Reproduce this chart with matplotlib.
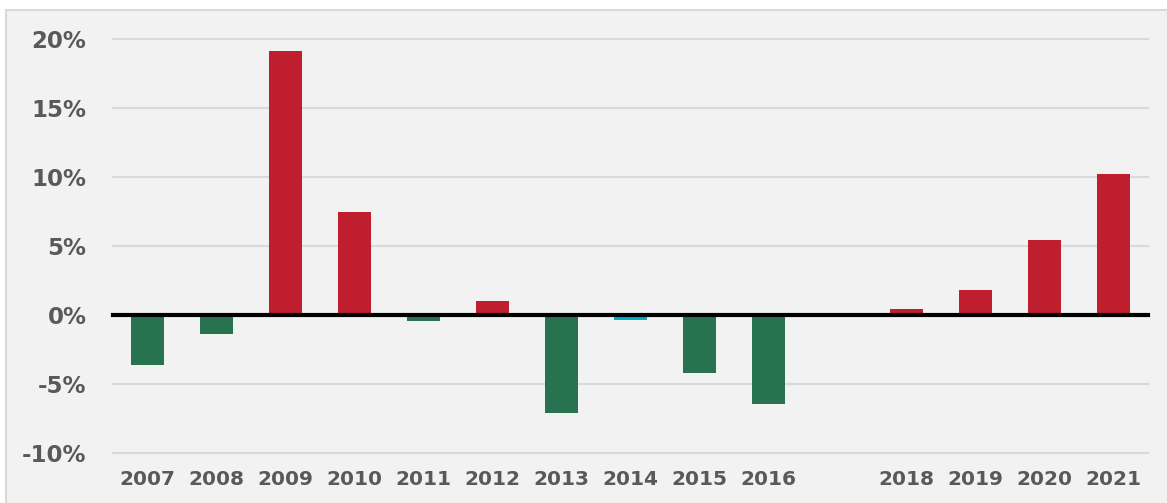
import matplotlib
matplotlib.use("Agg")
import matplotlib.pyplot as plt
from matplotlib.patches import Rectangle

years = ["2007", "2008", "2009", "2010", "2011", "2012", "2013", "2014",
         "2015", "2016", "2017", "2018", "2019", "2020", "2021"]
values = [-3.6, -1.35, 19.1, 7.5, -0.45, 1.0, -7.1, -0.35,
          -4.18, -6.43, None, 0.4, 1.8, 5.4, 10.2]
colors = ["#277350", "#277350", "#BE1E2D", "#BE1E2D", "#277350", "#BE1E2D",
          "#277350", "#00AEC7", "#277350", "#277350", "#BE1E2D", "#BE1E2D",
          "#BE1E2D", "#BE1E2D", "#BE1E2D"]
xlabels = ["2007", "2008", "2009", "2010", "2011", "2012", "2013", "2014",
           "2015", "2016", "", "2018", "2019", "2020", "2021"]
yticks = [-10, -5, 0, 5, 10, 15, 20]
ylabels = ["-10%", "-5%", "0%", "5%", "10%", "15%", "20%"]

W, H = 1167, 503
fig = plt.figure(figsize=(W / 100, H / 100), dpi=100)
fig.patch.set_facecolor("white")
fig.patches.append(Rectangle((6 / W, -0.2), 1.2, 1.2 - 10 / H, transform=fig.transFigure,
                             facecolor="#f2f2f2", edgecolor="#d9d9d9", linewidth=1.5,
                             zorder=-10))

ax = fig.add_axes([113 / W, 50 / H, (1148 - 113) / W, (464 - 50) / H])
ax.set_zorder(5)
ax.set_facecolor("none")

xs = list(range(len(years)))
for x, v, c in zip(xs, values, colors):
    if v is None:
        continue
    ax.bar(x, v, width=0.48, color=c, zorder=2)

ax.set_xlim(-0.5, len(years) - 0.5)
ax.set_ylim(-10, 20)
ax.set_yticks(yticks)
ax.set_yticklabels(ylabels)
ax.set_xticks(xs)
ax.set_xticklabels(xlabels)

for y in yticks:
    ax.axhline(y, color="#d9d9d9", linewidth=1.5, zorder=1, clip_on=False)
ax.axhline(0, color="black", linewidth=3, zorder=3, clip_on=False)

for s in ax.spines.values():
    s.set_visible(False)
ax.tick_params(axis="both", length=0)
ax.tick_params(axis="y", pad=19)
ax.tick_params(axis="x", pad=12)
for lab in ax.get_yticklabels():
    lab.set_fontfamily("DejaVu Sans")
    lab.set_fontweight("bold")
    lab.set_fontsize(16.5)
    lab.set_color("#595959")
for lab in ax.get_xticklabels():
    lab.set_fontfamily("DejaVu Sans")
    lab.set_fontweight("bold")
    lab.set_fontsize(14.5)
    lab.set_color("#595959")

fig.savefig("out.png", dpi=100, facecolor=fig.get_facecolor())
